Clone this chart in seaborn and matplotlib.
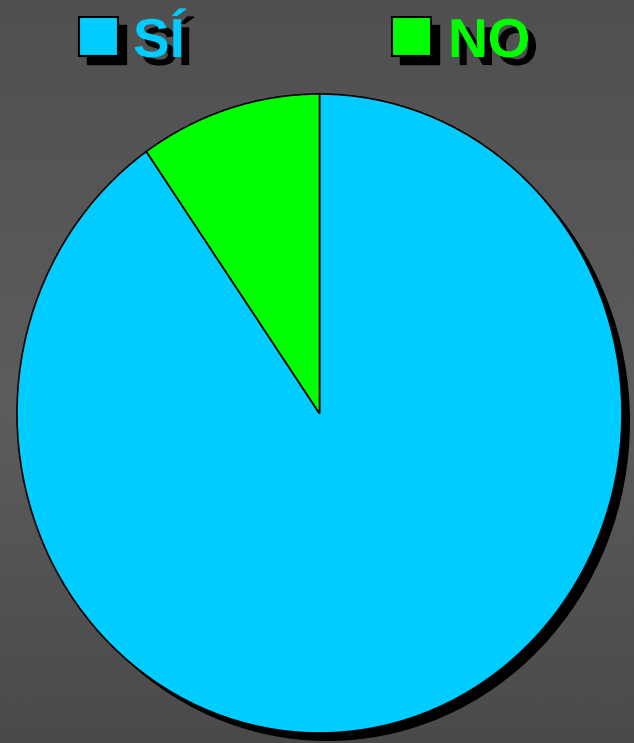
import numpy as np
import matplotlib
matplotlib.use("Agg")
import matplotlib.pyplot as plt
import matplotlib.patheffects as pe
from matplotlib.patches import Ellipse, Rectangle
import seaborn as sns

# =====================================
# Data
# =====================================

labels = ["SÍ", "NO"]
values = [90.3, 9.7]
colors = ["#00CCFF", "#00FF00"]

# =====================================
# Figure
# =====================================

sns.set_theme(style="white")
plt.rcParams["font.family"] = ["Liberation Sans", "DejaVu Sans"]

W, H = 634, 743
fig = plt.figure(figsize=(W / 100, H / 100), dpi=100)

# background gradient (dark at top/bottom, a bit lighter in the middle)
bg = fig.add_axes([0, 0, 1, 1], zorder=-10)
ys = np.linspace(0, 1, 256)
shade = np.interp(ys, [0, 0.55, 1], [80, 92, 74]) / 255
grad = np.repeat(shade[:, None], 2, axis=1)
bg.imshow(grad, cmap="gray", vmin=0, vmax=1, aspect="auto", extent=[0, 1, 0, 1], origin="upper")
bg.set_axis_off()

# =====================================
# Pie
# =====================================

left, right, top, bottom = 17, 622, 94, 733
ax = fig.add_axes([left / W, 1 - bottom / H, (right - left) / W, (bottom - top) / H])

rx = (right - left) / 2
ry = (bottom - top) / 2
shadow = Ellipse((8 / rx, -8 / ry), 2, 2, facecolor="black", edgecolor="none",
                 clip_on=False, zorder=0)
ax.add_patch(shadow)

ax.pie(
    values,
    colors=colors,
    startangle=90,
    counterclock=False,
    radius=1,
    wedgeprops={"edgecolor": "black", "linewidth": 1.2, "zorder": 2},
)
ax.set_aspect("auto")
ax.set_xlim(-1, 1)
ax.set_ylim(-1, 1)
ax.set_axis_off()

# =====================================
# Legend (manual, with drop shadows)
# =====================================

box_x = [79, 392]
text_x = [133, 448]
box_top, box_size = 17, 39
baseline = 57
shadow_fx = [pe.SimplePatchShadow(offset=(5.8, -5.8), shadow_rgbFace="black", alpha=1.0), pe.Normal()]

for lab, col, bx, tx in zip(labels, colors, box_x, text_x):
    fig.patches.append(Rectangle(
        ((bx + 8) / W, 1 - (box_top + box_size + 8) / H), box_size / W, box_size / H,
        transform=fig.transFigure, facecolor="black", edgecolor="black", zorder=5))
    fig.patches.append(Rectangle(
        (bx / W, 1 - (box_top + box_size) / H), box_size / W, box_size / H,
        transform=fig.transFigure, facecolor=col, edgecolor="black", linewidth=1.5, zorder=6))
    fig.text(tx / W, 1 - baseline / H, lab, color=col, fontsize=39.5, fontweight="bold",
             va="baseline", ha="left", path_effects=shadow_fx, zorder=7)

fig.savefig("out.png", dpi=100)
